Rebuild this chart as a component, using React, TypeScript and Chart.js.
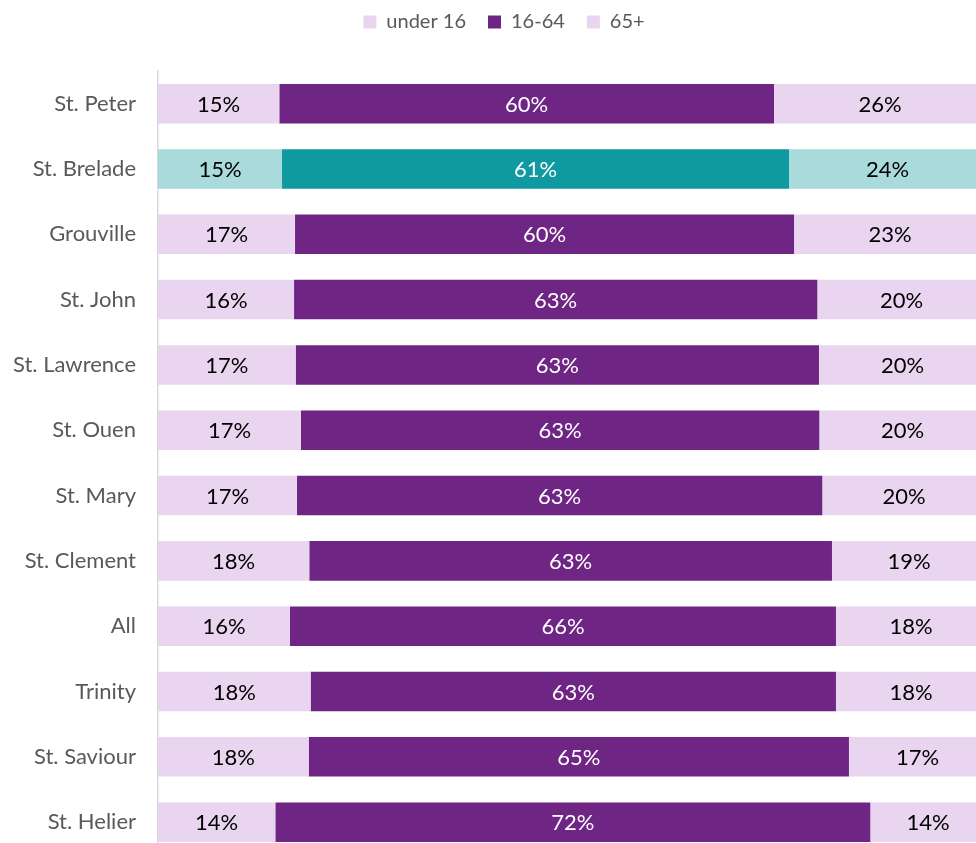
import React, { useEffect, useRef } from "react";
import { Chart, registerables } from "chart.js";

Chart.register(...registerables);

const categories = [
  "St. Peter",
  "St. Brelade",
  "Grouville",
  "St. John",
  "St. Lawrence",
  "St. Ouen",
  "St. Mary",
  "St. Clement",
  "All",
  "Trinity",
  "St. Saviour",
  "St. Helier",
];
const under16 = [14.65, 14.98, 16.55, 16.43, 16.63, 17.27, 16.79, 18.27, 15.94, 18.44, 18.2, 14.17];
const age16to64 = [59.75, 61.23, 60.27, 63.2, 63.2, 62.6, 63.44, 63.13, 65.94, 63.44, 65.25, 71.86];
const over65 = [25.6, 23.79, 23.18, 20.37, 20.17, 20.13, 19.77, 18.6, 18.12, 18.12, 16.55, 13.97];
const seriesNames = ["under 16", "16-64", "65+"];
const highlightCategory = "St. Brelade";

const LAV = "#E9D5F0";
const PURPLE = "#6E2583";
const LIGHT_TEAL = "#A9DADC";
const TEAL = "#0F99A1";
const FONT = "Lato, 'Open Sans', sans-serif";

const CANVAS_W = 1008;
const CANVAS_H = 890;
const X_MAX = 102.66;

export default function App() {
  const ref = useRef<HTMLCanvasElement>(null);

  useEffect(() => {
    if (!ref.current) return;
    const seriesData = [under16, age16to64, over65];
    const normalColors = [LAV, PURPLE, LAV];
    const hiColors = [LIGHT_TEAL, TEAL, LIGHT_TEAL];

    const valueLabels = {
      id: "valueLabels",
      afterDatasetsDraw(chart: any) {
        const ctx = chart.ctx;
        ctx.save();
        ctx.font = `22px ${FONT}`;
        ctx.textAlign = "center";
        ctx.textBaseline = "middle";
        chart.data.datasets.forEach((ds: any, i: number) => {
          const meta = chart.getDatasetMeta(i);
          meta.data.forEach((el: any, j: number) => {
            const p = el.getProps(["x", "y", "base"], true);
            const cx = (p.x + p.base) / 2;
            ctx.fillStyle = i === 1 ? "#FFFFFF" : "#000000";
            ctx.fillText(Math.round(ds.data[j]) + "%", cx, p.y + 1);
          });
        });
        ctx.restore();
      },
    };

    const chart = new Chart(ref.current, {
      type: "bar",
      data: {
        labels: categories,
        datasets: seriesNames.map((name, i) => ({
          label: name,
          data: seriesData[i],
          backgroundColor: categories.map((c) =>
            c === highlightCategory ? hiColors[i] : normalColors[i]
          ),
          borderWidth: 0,
          barPercentage: 0.605,
          categoryPercentage: 1,
        })),
      },
      options: {
        indexAxis: "y",
        responsive: false,
        maintainAspectRatio: false,
        animation: false,
        layout: { padding: { top: -10, left: 0, right: 0, bottom: 0 } },
        scales: {
          x: { stacked: true, min: 0, max: X_MAX, display: false },
          xSpacer: {
            type: "linear",
            position: "top",
            display: true,
            grid: { display: false, drawTicks: false },
            border: { display: false },
            ticks: { display: false },
            afterFit(scale: any) {
              scale.height = 29;
            },
          },
          y: {
            stacked: true,
            grid: { display: false, drawTicks: false },
            border: { display: true, color: "#D9D9D9", width: 1.5 },
            ticks: { color: "#595959", font: { family: FONT, size: 22 }, padding: 22 },
            afterFit(scale: any) {
              scale.width = 158;
            },
          },
        },
        plugins: {
          legend: {
            position: "top",
            labels: {
              boxWidth: 13,
              boxHeight: 13,
              padding: 22,
              color: "#595959",
              font: { family: FONT, size: 20 },
              generateLabels: () =>
                seriesNames.map((n, i) => ({
                  text: n,
                  fillStyle: normalColors[i],
                  strokeStyle: normalColors[i],
                  lineWidth: 0,
                  hidden: false,
                  datasetIndex: i,
                  fontColor: "#595959",
                })),
            },
          },
          tooltip: { enabled: false },
        },
      } as any,
      plugins: [valueLabels],
    });
    return () => chart.destroy();
  }, []);

  return (
    <div
      style={{
        position: "fixed",
        left: 0,
        top: 0,
        width: 976,
        height: 843,
        overflow: "hidden",
        background: "#FFFFFF",
      }}
    >
      <canvas
        ref={ref}
        width={CANVAS_W}
        height={CANVAS_H}
        style={{ display: "block", width: CANVAS_W, height: CANVAS_H }}
      />
    </div>
  );
}
